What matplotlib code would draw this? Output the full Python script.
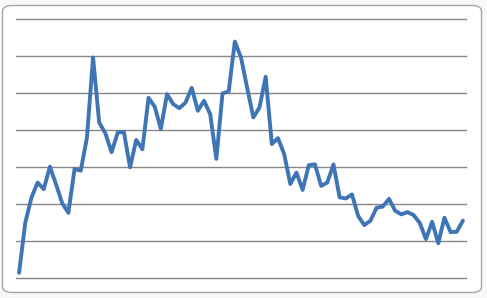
import numpy as np
import matplotlib
matplotlib.use('Agg')
import matplotlib.pyplot as plt
from matplotlib.patches import FancyBboxPatch

# series values (gridline spacing = 1 unit, 8 gridlines 0..7)
values = [0.14, 1.49, 2.17, 2.58, 2.40, 3.01, 2.53, 2.02, 1.76, 2.95,
          2.90, 3.78, 5.96, 4.20, 3.91, 3.40, 3.93, 3.95, 2.99, 3.73,
          3.48, 4.87, 4.63, 4.03, 4.97, 4.70, 4.59, 4.74, 5.14, 4.52,
          4.79, 4.43, 3.22, 4.99, 5.04, 6.39, 5.96, 5.14, 4.34, 4.61,
          5.44, 3.62, 3.78, 3.35, 2.54, 2.85, 2.38, 3.05, 3.07, 2.49,
          2.58, 3.07, 2.18, 2.15, 2.26, 1.68, 1.43, 1.55, 1.90, 1.93,
          2.14, 1.82, 1.72, 1.78, 1.70, 1.49, 1.05, 1.52, 0.94, 1.63,
          1.24, 1.25, 1.55]
categories = np.arange(len(values))
gridlines = np.arange(0, 8)

W, H = 487, 298
fig = plt.figure(figsize=(W / 100, H / 100), dpi=100)
fig.patch.set_facecolor('#f8f8f8')

#----- chart area with rounded border (behind the plot area)
box = FancyBboxPatch((2.5 / W, 5.5 / H), 479 / W, 287 / H,
                     boxstyle='round,pad=0,rounding_size=0.02',
                     transform=fig.transFigure, facecolor='white',
                     edgecolor='#a6a6a6', linewidth=1.0, zorder=-1)
fig.patches.append(box)

#----- plot area
ax = fig.add_axes([16 / W, (H - 278) / H, 450 / W, 259 / H])
ax.set_facecolor('none')
for y in gridlines:
    ax.axhline(y, color='#878787', linewidth=1.0, zorder=1, clip_on=False)
ax.plot(categories, values, color='#4075b5', linewidth=2.8,
        solid_joinstyle='round', solid_capstyle='round', zorder=3)

ax.set_xlim(-0.5, len(values) - 0.5)
ax.set_ylim(0, 7)
ax.set_xticks([])
ax.set_yticks([])
for s in ax.spines.values():
    s.set_visible(False)

plt.savefig('out.png', dpi=100, facecolor=fig.get_facecolor())
